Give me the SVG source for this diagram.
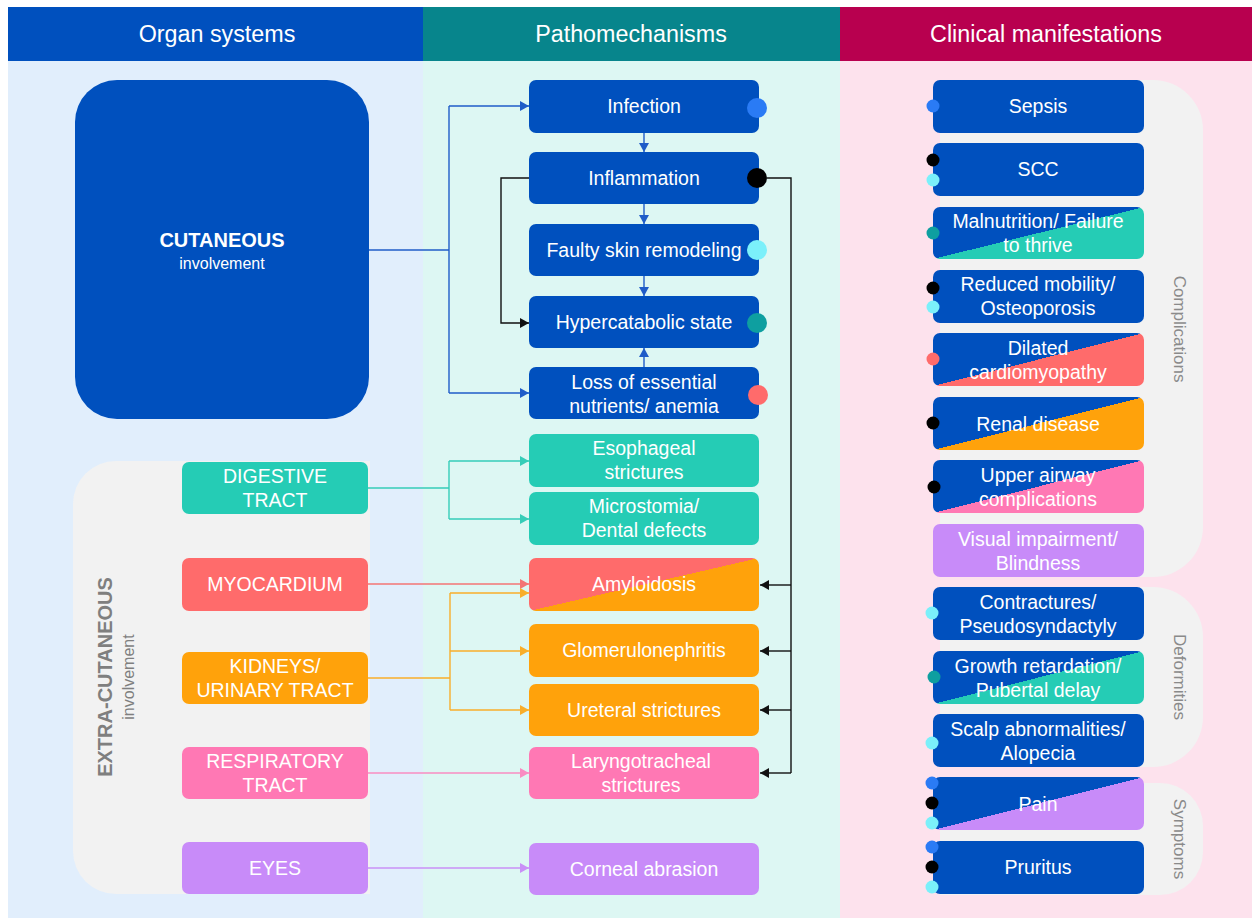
<svg xmlns="http://www.w3.org/2000/svg" width="1252" height="918" viewBox="0 0 1252 918">
<style>
text{font-family:"Liberation Sans",Arial,sans-serif;}
.hd{fill:#fff;font-size:23.3px;text-anchor:middle;}
.t{fill:#fff;font-size:19.5px;text-anchor:middle;}
.blue{fill:#0050BE;}
.teal{fill:#25CCB5;}
.red{fill:#FF6B6B;}
.orange{fill:#FFA20B;}
.pink{fill:#FF78B4;}
.purple{fill:#C88BF9;}
.panel{fill:#F2F2F2;}
.vl{fill:#8A8A8A;font-size:17px;text-anchor:middle;}
.c{fill:none;stroke-width:1.4;}
</style>
<defs>
<linearGradient id="gTeal" x1="0" y1="0" x2="1" y2="1"><stop offset="0.5" stop-color="#0050BE"/><stop offset="0.5" stop-color="#25CCB5"/></linearGradient>
<linearGradient id="gRed" x1="0" y1="0" x2="1" y2="1"><stop offset="0.5" stop-color="#0050BE"/><stop offset="0.5" stop-color="#FF6B6B"/></linearGradient>
<linearGradient id="gOrange" x1="0" y1="0" x2="1" y2="1"><stop offset="0.5" stop-color="#0050BE"/><stop offset="0.5" stop-color="#FFA20B"/></linearGradient>
<linearGradient id="gPink" x1="0" y1="0" x2="1" y2="1"><stop offset="0.5" stop-color="#0050BE"/><stop offset="0.5" stop-color="#FF78B4"/></linearGradient>
<linearGradient id="gPurple" x1="0" y1="0" x2="1" y2="1"><stop offset="0.5" stop-color="#0050BE"/><stop offset="0.5" stop-color="#C88BF9"/></linearGradient>
<linearGradient id="gAmy" x1="0" y1="0" x2="1" y2="1"><stop offset="0.5" stop-color="#FF6B6B"/><stop offset="0.5" stop-color="#FFA20B"/></linearGradient>
<marker id="aBlue" markerUnits="userSpaceOnUse" markerWidth="9" markerHeight="10" refX="9" refY="5" orient="auto"><path d="M0,0 L9,5 L0,10 Z" fill="#1F5CC8"/></marker>
<marker id="aBlack" markerUnits="userSpaceOnUse" markerWidth="9" markerHeight="10" refX="9" refY="5" orient="auto"><path d="M0,0 L9,5 L0,10 Z" fill="#111"/></marker>
<marker id="aTeal" markerUnits="userSpaceOnUse" markerWidth="9" markerHeight="10" refX="9" refY="5" orient="auto"><path d="M0,0 L9,5 L0,10 Z" fill="#35CDB8"/></marker>
<marker id="aRed" markerUnits="userSpaceOnUse" markerWidth="9" markerHeight="10" refX="9" refY="5" orient="auto"><path d="M0,0 L9,5 L0,10 Z" fill="#F37575"/></marker>
<marker id="aOrange" markerUnits="userSpaceOnUse" markerWidth="9" markerHeight="10" refX="9" refY="5" orient="auto"><path d="M0,0 L9,5 L0,10 Z" fill="#F8AE2A"/></marker>
<marker id="aPink" markerUnits="userSpaceOnUse" markerWidth="9" markerHeight="10" refX="9" refY="5" orient="auto"><path d="M0,0 L9,5 L0,10 Z" fill="#F98CC2"/></marker>
<marker id="aPurple" markerUnits="userSpaceOnUse" markerWidth="9" markerHeight="10" refX="9" refY="5" orient="auto"><path d="M0,0 L9,5 L0,10 Z" fill="#C990F7"/></marker>
</defs>

<rect x="0" y="0" width="1252" height="918" fill="#fff"/>
<!-- column backgrounds -->
<rect x="8" y="61" width="415" height="857" fill="#E1EEFC"/>
<rect x="423" y="61" width="417" height="857" fill="#DDF7F3"/>
<rect x="840" y="61" width="412" height="857" fill="#FDE2ED"/>

<!-- headers -->
<g id="header-organ"><rect x="8" y="7" width="415" height="54" fill="#0050BE"/><text class="hd" x="217" y="42">Organ systems</text></g>
<g id="header-patho"><rect x="423" y="7" width="417" height="54" fill="#07858C"/><text class="hd" x="631" y="42">Pathomechanisms</text></g>
<g id="header-clinical"><rect x="840" y="7" width="412" height="54" fill="#B8004F"/><text class="hd" x="1046" y="42">Clinical manifestations</text></g>

<!-- grey panels -->
<g id="panel-extracutaneous">
<path class="panel" d="M370,461 H116 A43,43 0 0 0 73,504 V851 A43,43 0 0 0 116,894 H370 Z"/>
<text transform="translate(112,677) rotate(-90)" x="0" y="0" font-size="20" font-weight="bold" fill="#7F7F7F" text-anchor="middle">EXTRA-CUTANEOUS</text>
<text transform="translate(134,677) rotate(-90)" x="0" y="0" font-size="16" fill="#7F7F7F" text-anchor="middle">involvement</text>
</g>
<g id="panel-complications">
<path class="panel" d="M940,80 H1153 A50,50 0 0 1 1203,130 V527 A50,50 0 0 1 1153,577 H940 Z"/>
<text class="vl" transform="translate(1174,329) rotate(90)">Complications</text>
</g>
<g id="panel-deformities">
<path class="panel" d="M940,587 H1153 A50,50 0 0 1 1203,637 V717 A50,50 0 0 1 1153,767 H940 Z"/>
<text class="vl" transform="translate(1174,677) rotate(90)">Deformities</text>
</g>
<g id="panel-symptoms">
<path class="panel" d="M940,783 H1160 A43,43 0 0 1 1203,826 V852 A43,43 0 0 1 1160,895 H940 Z"/>
<text class="vl" transform="translate(1174,839) rotate(90)">Symptoms</text>
</g>

<!-- connectors -->
<g id="connectors">
<path class="c" stroke="#1F5CC8" d="M369,250 H449"/>
<path class="c" stroke="#1F5CC8" d="M449,106 V393"/>
<path class="c" stroke="#1F5CC8" d="M449,106 H529" marker-end="url(#aBlue)"/>
<path class="c" stroke="#1F5CC8" d="M449,393 H529" marker-end="url(#aBlue)"/>
<path class="c" stroke="#1F5CC8" d="M644,133 V152" marker-end="url(#aBlue)"/>
<path class="c" stroke="#1F5CC8" d="M644,204 V224" marker-end="url(#aBlue)"/>
<path class="c" stroke="#1F5CC8" d="M644,276 V296" marker-end="url(#aBlue)"/>
<path class="c" stroke="#1F5CC8" d="M644,367 V348" marker-end="url(#aBlue)"/>
<path class="c" stroke="#111" d="M529,178 H501 V323 H529" marker-end="url(#aBlack)"/>
<path class="c" stroke="#111" d="M767,178 H791 V773"/>
<path class="c" stroke="#111" d="M791,585 H760" marker-end="url(#aBlack)"/>
<path class="c" stroke="#111" d="M791,651 H760" marker-end="url(#aBlack)"/>
<path class="c" stroke="#111" d="M791,710 H760" marker-end="url(#aBlack)"/>
<path class="c" stroke="#111" d="M791,773 H760" marker-end="url(#aBlack)"/>
<path class="c" stroke="#35CDB8" d="M368,488 H449"/>
<path class="c" stroke="#35CDB8" d="M449,461 V519"/>
<path class="c" stroke="#35CDB8" d="M449,461 H529" marker-end="url(#aTeal)"/>
<path class="c" stroke="#35CDB8" d="M449,519 H529" marker-end="url(#aTeal)"/>
<path class="c" stroke="#F37575" d="M368,584 H529" marker-end="url(#aRed)"/>
<path class="c" stroke="#F8AE2A" d="M368,678 H450"/>
<path class="c" stroke="#F8AE2A" d="M450,593 V710"/>
<path class="c" stroke="#F8AE2A" d="M450,593 H529" marker-end="url(#aOrange)"/>
<path class="c" stroke="#F8AE2A" d="M450,651 H529" marker-end="url(#aOrange)"/>
<path class="c" stroke="#F8AE2A" d="M450,710 H529" marker-end="url(#aOrange)"/>
<path class="c" stroke="#F98CC2" d="M368,773 H529" marker-end="url(#aPink)"/>
<path class="c" stroke="#C990F7" d="M368,868 H529" marker-end="url(#aPurple)"/>
</g>

<!-- organ systems -->
<g id="node-cutaneous">
<rect class="blue" x="75" y="80" width="294" height="339" rx="42"/>
<text x="222" y="247" fill="#fff" font-size="20" font-weight="bold" text-anchor="middle">CUTANEOUS</text>
<text x="222" y="269" fill="#fff" font-size="16" text-anchor="middle">involvement</text>
</g>
<g id="node-digestive"><rect class="teal" x="182" y="462" width="186" height="52" rx="7"/><text class="t" x="275" y="483">DIGESTIVE</text><text class="t" x="275" y="507">TRACT</text></g>
<g id="node-myocardium"><rect class="red" x="182" y="558" width="186" height="53" rx="7"/><text class="t" x="275" y="591">MYOCARDIUM</text></g>
<g id="node-kidneys"><rect class="orange" x="182" y="652" width="186" height="52" rx="7"/><text class="t" x="275" y="673">KIDNEYS/</text><text class="t" x="275" y="697">URINARY TRACT</text></g>
<g id="node-respiratory"><rect class="pink" x="182" y="747" width="186" height="52" rx="7"/><text class="t" x="275" y="768">RESPIRATORY</text><text class="t" x="275" y="792">TRACT</text></g>
<g id="node-eyes"><rect class="purple" x="182" y="842" width="186" height="52" rx="7"/><text class="t" x="275" y="875">EYES</text></g>

<!-- pathomechanisms -->
<g id="node-infection"><rect class="blue" x="529" y="80" width="230" height="53" rx="7"/><text class="t" x="644" y="113">Infection</text><circle cx="757" cy="108" r="10" fill="#2A7BF5"/></g>
<g id="node-inflammation"><rect class="blue" x="529" y="152" width="230" height="52" rx="7"/><text class="t" x="644" y="185">Inflammation</text><circle cx="757" cy="178" r="10" fill="#000"/></g>
<g id="node-faulty"><rect class="blue" x="529" y="224" width="230" height="52" rx="7"/><text class="t" x="644" y="257">Faulty skin remodeling</text><circle cx="757" cy="250" r="10" fill="#7BF0FA"/></g>
<g id="node-hypercatabolic"><rect class="blue" x="529" y="296" width="230" height="52" rx="7"/><text class="t" x="644" y="329">Hypercatabolic state</text><circle cx="757" cy="323" r="10" fill="#0E9FA0"/></g>
<g id="node-loss"><rect class="blue" x="529" y="367" width="230" height="52" rx="7"/><text class="t" x="644" y="389">Loss of essential</text><text class="t" x="644" y="413">nutrients/ anemia</text><circle cx="758" cy="395" r="10" fill="#FF6B6B"/></g>
<g id="node-esophageal"><rect class="teal" x="529" y="434" width="230" height="53" rx="7"/><text class="t" x="644" y="455">Esophageal</text><text class="t" x="644" y="479">strictures</text></g>
<g id="node-microstomia"><rect class="teal" x="529" y="492" width="230" height="53" rx="7"/><text class="t" x="644" y="513">Microstomia/</text><text class="t" x="644" y="537">Dental defects</text></g>
<g id="node-amyloidosis"><rect x="529" y="558" width="230" height="53" rx="7" fill="url(#gAmy)"/><text class="t" x="644" y="591">Amyloidosis</text></g>
<g id="node-glomerulonephritis"><rect class="orange" x="529" y="624" width="230" height="53" rx="7"/><text class="t" x="644" y="657">Glomerulonephritis</text></g>
<g id="node-ureteral"><rect class="orange" x="529" y="684" width="230" height="52" rx="7"/><text class="t" x="644" y="717">Ureteral strictures</text></g>
<g id="node-laryngotracheal"><rect class="pink" x="529" y="747" width="230" height="52" rx="7"/><text class="t" x="641" y="768">Laryngotracheal</text><text class="t" x="641" y="792">strictures</text></g>
<g id="node-corneal"><rect class="purple" x="529" y="843" width="230" height="52" rx="7"/><text class="t" x="644" y="876">Corneal abrasion</text></g>

<!-- clinical manifestations -->
<g id="node-sepsis"><rect class="blue" x="933" y="80" width="211" height="53" rx="7"/><text class="t" x="1038" y="113">Sepsis</text><circle cx="933" cy="106" r="6.5" fill="#2A7BF5"/></g>
<g id="node-scc"><rect class="blue" x="933" y="143" width="211" height="53" rx="7"/><text class="t" x="1038" y="176">SCC</text><circle cx="933" cy="160" r="6.5" fill="#000"/><circle cx="933" cy="180" r="6.5" fill="#7BF0FA"/></g>
<g id="node-malnutrition"><rect x="933" y="207" width="211" height="52" rx="7" fill="url(#gTeal)"/><text class="t" x="1038" y="228">Malnutrition/ Failure</text><text class="t" x="1038" y="252">to thrive</text><circle cx="933" cy="233" r="6.5" fill="#0E9FA0"/></g>
<g id="node-mobility"><rect class="blue" x="933" y="270" width="211" height="53" rx="7"/><text class="t" x="1038" y="291">Reduced mobility/</text><text class="t" x="1038" y="315">Osteoporosis</text><circle cx="933" cy="288" r="6.5" fill="#000"/><circle cx="933" cy="307" r="6.5" fill="#7BF0FA"/></g>
<g id="node-cardiomyopathy"><rect x="933" y="333" width="211" height="53" rx="7" fill="url(#gRed)"/><text class="t" x="1038" y="355">Dilated</text><text class="t" x="1038" y="379">cardiomyopathy</text><circle cx="933" cy="359" r="6.5" fill="#FF6B6B"/></g>
<g id="node-renal"><rect x="933" y="397" width="211" height="53" rx="7" fill="url(#gOrange)"/><text class="t" x="1038" y="431">Renal disease</text><circle cx="933" cy="423" r="6.5" fill="#000"/></g>
<g id="node-airway"><rect x="933" y="460" width="211" height="53" rx="7" fill="url(#gPink)"/><text class="t" x="1038" y="482">Upper airway</text><text class="t" x="1038" y="506">complications</text><circle cx="934" cy="487" r="6.5" fill="#000"/></g>
<g id="node-visual"><rect class="purple" x="933" y="524" width="211" height="53" rx="7"/><text class="t" x="1038" y="546">Visual impairment/</text><text class="t" x="1038" y="570">Blindness</text></g>
<g id="node-contractures"><rect class="blue" x="933" y="587" width="211" height="53" rx="7"/><text class="t" x="1038" y="609">Contractures/</text><text class="t" x="1038" y="633">Pseudosyndactyly</text><circle cx="932" cy="613" r="6.5" fill="#7BF0FA"/></g>
<g id="node-growth"><rect x="933" y="651" width="211" height="53" rx="7" fill="url(#gTeal)"/><text class="t" x="1038" y="673">Growth retardation/</text><text class="t" x="1038" y="697">Pubertal delay</text><circle cx="934" cy="677" r="6.5" fill="#0E9FA0"/></g>
<g id="node-scalp"><rect class="blue" x="933" y="714" width="211" height="53" rx="7"/><text class="t" x="1038" y="736">Scalp abnormalities/</text><text class="t" x="1038" y="760">Alopecia</text><circle cx="932" cy="743" r="6.5" fill="#7BF0FA"/></g>
<g id="node-pain"><rect x="933" y="777" width="211" height="53" rx="7" fill="url(#gPurple)"/><text class="t" x="1038" y="811">Pain</text><circle cx="932" cy="783" r="6.5" fill="#2A7BF5"/><circle cx="932" cy="803" r="6.5" fill="#000"/><circle cx="932" cy="823" r="6.5" fill="#7BF0FA"/></g>
<g id="node-pruritus"><rect class="blue" x="933" y="841" width="211" height="53" rx="7"/><text class="t" x="1038" y="874">Pruritus</text><circle cx="932" cy="847" r="6.5" fill="#2A7BF5"/><circle cx="932" cy="867" r="6.5" fill="#000"/><circle cx="932" cy="887" r="6.5" fill="#7BF0FA"/></g>
</svg>
